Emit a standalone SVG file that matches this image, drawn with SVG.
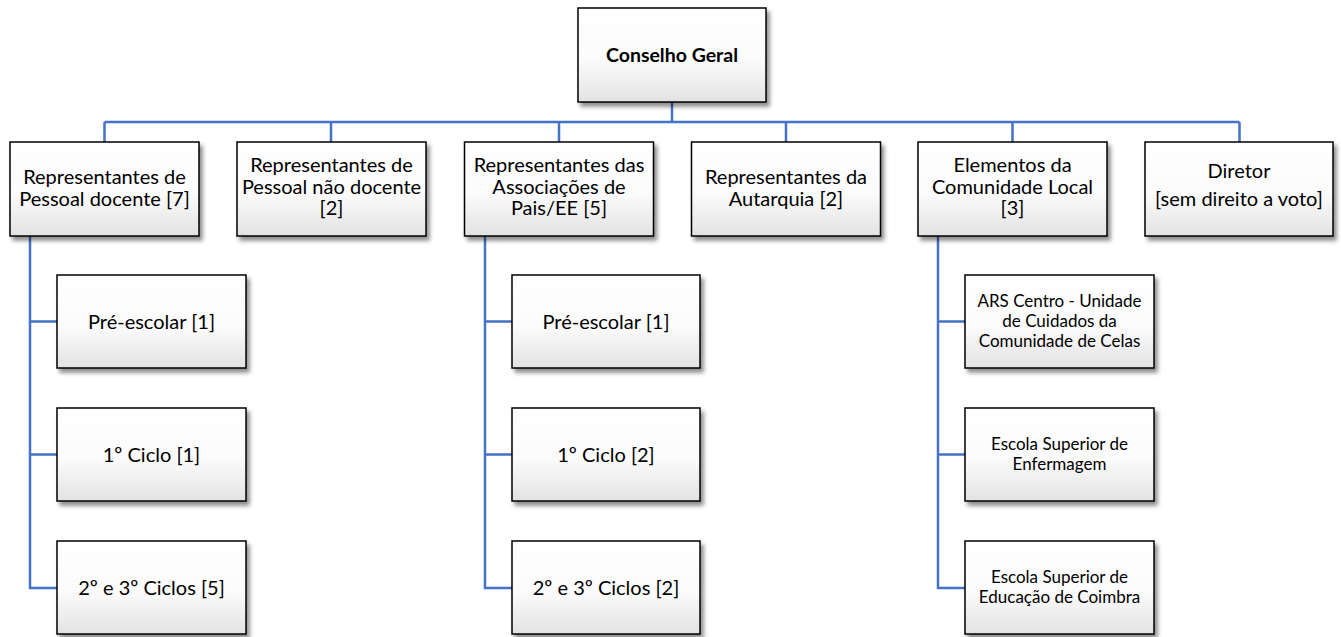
<svg xmlns="http://www.w3.org/2000/svg" width="1341" height="637" viewBox="0 0 1341 637">
<defs>
<linearGradient id="g" x1="0" y1="0" x2="0" y2="1">
<stop offset="0" stop-color="#ffffff"/>
<stop offset="0.55" stop-color="#fbfbfb"/>
<stop offset="1" stop-color="#e2e2e2"/>
</linearGradient>
<filter id="sh" x="-10%" y="-10%" width="130%" height="140%">
<feDropShadow dx="3" dy="4" stdDeviation="2.2" flood-color="#000" flood-opacity="0.45"/>
</filter>
</defs>
<style>
.box{fill:url(#g);stroke:#000;stroke-width:1.5;filter:url(#sh)}
.t{font-family:Lato,"Liberation Sans",sans-serif;font-size:20px;fill:#000;text-anchor:middle}
.b{font-weight:bold;font-size:19.5px}
.s{font-size:17px}
.ln{fill:none;stroke:#4472C4;stroke-width:2.5}
</style>
<g id="connectors">
<path class="ln" d="M672,102V122M104.5,122H1239.5M104.5,122V142M331,122V142M559,122V142M786,122V142M1012.5,122V142M1239.5,122V142"/>
<path class="ln" d="M30,236V588H57M30,321.5H57M30,454.5H57"/>
<path class="ln" d="M485,236V588H512M485,321.5H512M485,454.5H512"/>
<path class="ln" d="M938,236V588H965M938,321.5H965M938,454.5H965"/>
</g>
<g id="n0"><rect class="box" x="578" y="8" width="188" height="94"/><text class="t b" x="672" y="62">Conselho Geral</text></g>
<g id="n1"><rect class="box" x="10" y="142" width="189" height="94"/><text class="t" x="104.5" y="184">Representantes de</text><text class="t" x="104.5" y="205.5">Pessoal docente [7]</text></g>
<g id="n2"><rect class="box" x="237" y="142" width="189" height="94"/><text class="t" x="331.5" y="172">Representantes de</text><text class="t" x="331.5" y="193.5">Pessoal não docente</text><text class="t" x="331.5" y="215">[2]</text></g>
<g id="n3"><rect class="box" x="464.5" y="142" width="189" height="94"/><text class="t" x="559" y="172">Representantes das</text><text class="t" x="559" y="193.5">Associações de</text><text class="t" x="559" y="215">Pais/EE [5]</text></g>
<g id="n4"><rect class="box" x="691.5" y="142" width="189" height="94"/><text class="t" x="786" y="184">Representantes da</text><text class="t" x="786" y="206">Autarquia [2]</text></g>
<g id="n5"><rect class="box" x="918" y="142" width="189" height="94"/><text class="t" x="1012.5" y="172">Elementos da</text><text class="t" x="1012.5" y="193.5">Comunidade Local</text><text class="t" x="1012.5" y="215">[3]</text></g>
<g id="n6"><rect class="box" x="1145" y="142" width="188" height="94"/><text class="t" x="1239" y="178">Diretor</text><text class="t" x="1239" y="206">[sem direito a voto]</text></g>
<g id="n7"><rect class="box" x="57" y="275" width="189" height="93"/><text class="t" x="151.5" y="328.5">Pré-escolar [1]</text></g>
<g id="n8"><rect class="box" x="57" y="408" width="189" height="93"/><text class="t" x="151.5" y="461.5">1º Ciclo [1]</text></g>
<g id="n9"><rect class="box" x="57" y="541" width="189" height="93"/><text class="t" x="151.5" y="594.5">2º e 3º Ciclos [5]</text></g>
<g id="n10"><rect class="box" x="512" y="275" width="188" height="93"/><text class="t" x="606" y="328.5">Pré-escolar [1]</text></g>
<g id="n11"><rect class="box" x="512" y="408" width="188" height="93"/><text class="t" x="606" y="461.5">1º Ciclo [2]</text></g>
<g id="n12"><rect class="box" x="512" y="541" width="188" height="93"/><text class="t" x="606" y="594.5">2º e 3º Ciclos [2]</text></g>
<g id="n13"><rect class="box" x="965" y="275" width="189" height="93"/><text class="t s" x="1059.5" y="307">ARS Centro - Unidade</text><text class="t s" x="1059.5" y="327">de Cuidados da</text><text class="t s" x="1059.5" y="347">Comunidade de Celas</text></g>
<g id="n14"><rect class="box" x="965" y="408" width="189" height="93"/><text class="t s" x="1059.5" y="450">Escola Superior de</text><text class="t s" x="1059.5" y="470">Enfermagem</text></g>
<g id="n15"><rect class="box" x="965" y="541" width="189" height="93"/><text class="t s" x="1059.5" y="583">Escola Superior de</text><text class="t s" x="1059.5" y="603">Educação de Coimbra</text></g>
</svg>
